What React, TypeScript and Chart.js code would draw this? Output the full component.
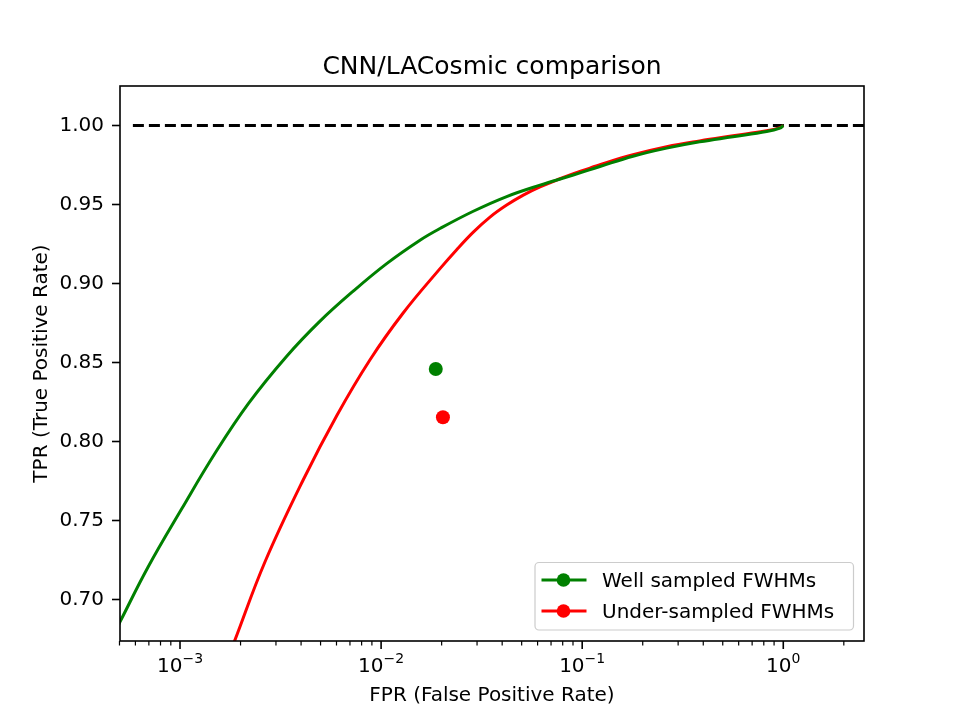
import { useEffect, useRef } from 'react';
import { Chart, registerables } from 'chart.js';

Chart.register(...registerables);

// ---- axis ranges & ticks ----
const X_MIN = 5.03e-4;
const X_MAX = 2.52;
const Y_MIN = 0.674;
const Y_MAX = 1.025;
const Y_TICKS = [0.7, 0.75, 0.8, 0.85, 0.9, 0.95, 1.0];
const X_TICK_EXPONENTS = [-3, -2, -1, 0];

// ---- texts ----
const TITLE = 'CNN/LACosmic comparison';
const X_LABEL = 'FPR (False Positive Rate)';
const Y_LABEL = 'TPR (True Positive Rate)';
const LEGEND_LABELS = ['Well sampled FWHMs', 'Under-sampled FWHMs'];

// ---- CNN ROC curve, well sampled FWHMs ----
const WELL_FPR = [4.8e-4, 5.03e-4, 6.96e-4, 1.02e-3, 1.493e-3, 2.187e-3, 3.393e-3, 4.969e-3, 7.27e-3, 0.01066, 0.01561, 0.01963, 0.02874, 0.04212, 0.06169, 0.09033, 0.1226, 0.1789, 0.2631, 0.384, 0.5622, 0.827, 0.963, 1.0];
const WELL_TPR = [0.681, 0.6861, 0.7211, 0.7576, 0.7927, 0.8241, 0.8541, 0.8763, 0.8953, 0.9127, 0.9275, 0.9349, 0.9458, 0.9551, 0.9623, 0.9687, 0.9741, 0.9806, 0.9857, 0.9897, 0.9929, 0.9962, 0.9984, 1.0];

// ---- CNN ROC curve, under-sampled FWHMs ----
const UNDER_FPR = [1.799e-3, 1.877e-3, 2.647e-3, 4.102e-3, 6.015e-3, 8.81e-3, 0.0129, 0.01963, 0.02376, 0.02874, 0.03479, 0.04212, 0.05094, 0.06169, 0.07465, 0.08376, 0.1093, 0.1226, 0.1789, 0.2631, 0.384, 0.5622, 0.827, 0.963, 1.0];
const UNDER_TPR = [0.6684, 0.6747, 0.7241, 0.776, 0.8165, 0.8519, 0.8816, 0.9095, 0.9215, 0.9326, 0.9421, 0.9497, 0.956, 0.9612, 0.9655, 0.968, 0.9731, 0.9753, 0.9815, 0.9866, 0.9903, 0.9935, 0.9967, 0.9987, 1.0];

// ---- LACosmic single points ----
const LAC_WELL_FPR = [0.0187];
const LAC_WELL_TPR = [0.846];
const LAC_UNDER_FPR = [0.0203];
const LAC_UNDER_TPR = [0.8155];

// ---- perfect TPR reference line ----
const PERFECT_FPR = [5.83e-4, 2.52];
const PERFECT_TPR = [1.0, 1.0];

const GREEN = '#008000';
const RED = '#ff0000';
const FONT = '"DejaVu Sans", "Liberation Sans", sans-serif';

const pts = (xs: number[], ys: number[]) => xs.map((x, i) => ({ x, y: ys[i] }));

const decor = {
  id: 'decor',
  afterDatasetsDraw(chart: any) {
    const { ctx, chartArea: a, scales } = chart;
    const xs = scales.x;
    ctx.save();
    // spines
    ctx.strokeStyle = '#000';
    ctx.lineWidth = 1.6;
    ctx.strokeRect(a.left, a.top, a.right - a.left, a.bottom - a.top);
    // x ticks (major + minor)
    for (let e = -4; e <= 1; e++) {
      for (let m = 1; m <= 9; m++) {
        const v = m * Math.pow(10, e);
        if (v < X_MIN * 0.99 || v > X_MAX) continue;
        const px = xs.getPixelForValue(v);
        ctx.lineWidth = m === 1 ? 1.6 : 1.2;
        ctx.beginPath();
        ctx.moveTo(px, a.bottom);
        ctx.lineTo(px, a.bottom + (m === 1 ? 8 : 4.5));
        ctx.stroke();
      }
    }
    // x tick labels 10^k
    ctx.fillStyle = '#000';
    ctx.textBaseline = 'alphabetic';
    ctx.textAlign = 'left';
    X_TICK_EXPONENTS.forEach((k) => {
      const px = xs.getPixelForValue(Math.pow(10, k));
      const base = '10';
      const sup = k < 0 ? '\u2212' + String(-k) : String(k);
      ctx.font = '20px ' + FONT;
      const w1 = ctx.measureText(base).width;
      ctx.font = '14px ' + FONT;
      const w2 = ctx.measureText(sup).width;
      const x0 = px - (w1 + w2) / 2;
      ctx.font = '20px ' + FONT;
      ctx.fillText(base, x0, a.bottom + 31);
      ctx.font = '14px ' + FONT;
      ctx.fillText(sup, x0 + w1, a.bottom + 22);
    });
    // axis titles
    ctx.font = '20px ' + FONT;
    ctx.textAlign = 'center';
    ctx.fillText(X_LABEL, (a.left + a.right) / 2, a.bottom + 60);
    ctx.save();
    ctx.translate(a.left - 73, (a.top + a.bottom) / 2);
    ctx.rotate(-Math.PI / 2);
    ctx.fillText(Y_LABEL, 0, 0);
    ctx.restore();
    // title
    ctx.font = '25px ' + FONT;
    ctx.fillText(TITLE, (a.left + a.right) / 2, a.top - 12);
    // legend
    const lx = a.right - 329, ly = a.bottom - 78.5, lw = 318.5, lh = 67.5;
    ctx.beginPath();
    const r = 4;
    ctx.moveTo(lx + r, ly);
    ctx.arcTo(lx + lw, ly, lx + lw, ly + lh, r);
    ctx.arcTo(lx + lw, ly + lh, lx, ly + lh, r);
    ctx.arcTo(lx, ly + lh, lx, ly, r);
    ctx.arcTo(lx, ly, lx + lw, ly, r);
    ctx.closePath();
    ctx.fillStyle = 'rgba(255,255,255,0.8)';
    ctx.fill();
    ctx.strokeStyle = '#cccccc';
    ctx.lineWidth = 1.2;
    ctx.stroke();
    const colors = [GREEN, RED];
    const rows = [ly + 17.5, ly + 48.5];
    LEGEND_LABELS.forEach((lab, i) => {
      const y = rows[i];
      ctx.strokeStyle = colors[i];
      ctx.lineWidth = 3;
      ctx.beginPath();
      ctx.moveTo(lx + 6.5, y);
      ctx.lineTo(lx + 51.5, y);
      ctx.stroke();
      ctx.fillStyle = colors[i];
      ctx.beginPath();
      ctx.arc(lx + 28.5, y, 6.8, 0, Math.PI * 2);
      ctx.fill();
      ctx.fillStyle = '#000';
      ctx.font = '20px ' + FONT;
      ctx.textAlign = 'left';
      ctx.fillText(lab, lx + 67, y + 7.2);
    });
    ctx.restore();
  },
};

export default function App() {
  const ref = useRef<HTMLCanvasElement | null>(null);
  useEffect(() => {
    if (!ref.current) return;
    const chart = new Chart(ref.current, {
      type: 'scatter',
      data: {
        datasets: [
          {
            label: LEGEND_LABELS[0],
            data: pts(WELL_FPR, WELL_TPR),
            showLine: true,
            borderColor: GREEN,
            backgroundColor: GREEN,
            borderWidth: 3,
            pointRadius: 0,
            tension: 0.4,
            borderJoinStyle: 'round',
          },
          {
            label: LEGEND_LABELS[1],
            data: pts(UNDER_FPR, UNDER_TPR),
            showLine: true,
            borderColor: RED,
            backgroundColor: RED,
            borderWidth: 3,
            pointRadius: 0,
            tension: 0.4,
            borderJoinStyle: 'round',
          },
          {
            label: 'LACosmic well',
            data: pts(LAC_WELL_FPR, LAC_WELL_TPR),
            showLine: false,
            pointRadius: 7,
            pointBorderWidth: 0,
            backgroundColor: GREEN,
            borderColor: GREEN,
          },
          {
            label: 'LACosmic under',
            data: pts(LAC_UNDER_FPR, LAC_UNDER_TPR),
            showLine: false,
            pointRadius: 7,
            pointBorderWidth: 0,
            backgroundColor: RED,
            borderColor: RED,
          },
          {
            label: 'perfect',
            data: pts(PERFECT_FPR, PERFECT_TPR),
            showLine: true,
            borderColor: '#000',
            borderWidth: 3,
            borderDash: [11, 5],
            pointRadius: 0,
          },
        ],
      } as any,
      options: {
        responsive: false,
        animation: false,
        devicePixelRatio: 1,
        layout: { padding: { left: 0, right: 96, top: 86, bottom: 0 } },
        plugins: {
          legend: { display: false },
          title: { display: false },
          tooltip: { enabled: false },
        },
        scales: {
          x: {
            type: 'logarithmic',
            min: X_MIN,
            max: X_MAX,
            border: { display: false },
            grid: { display: false },
            ticks: { display: false },
            afterFit: (s: any) => { s.height = 79; },
          },
          y: {
            type: 'linear',
            min: Y_MIN,
            max: Y_MAX,
            border: { display: false },
            grid: {
              display: true,
              drawOnChartArea: false,
              drawTicks: true,
              tickLength: 8,
              tickWidth: 1.6,
              tickColor: '#000',
            },
            ticks: {
              padding: 8,
              color: '#000',
              font: { family: FONT, size: 20 },
              callback: (v: any) => Number(v).toFixed(2),
            },
            afterBuildTicks: (s: any) => { s.ticks = Y_TICKS.map((v) => ({ value: v })); },
            afterFit: (s: any) => { s.width = 120; },
          },
        },
      } as any,
      plugins: [decor],
    });
    return () => chart.destroy();
  }, []);
  return (
    <div style={{ position: 'absolute', left: 0, top: 0, width: 960, height: 720, background: '#fff' }}>
      <canvas ref={ref} width={960} height={720} style={{ display: 'block', width: 960, height: 720 }} />
    </div>
  );
}
